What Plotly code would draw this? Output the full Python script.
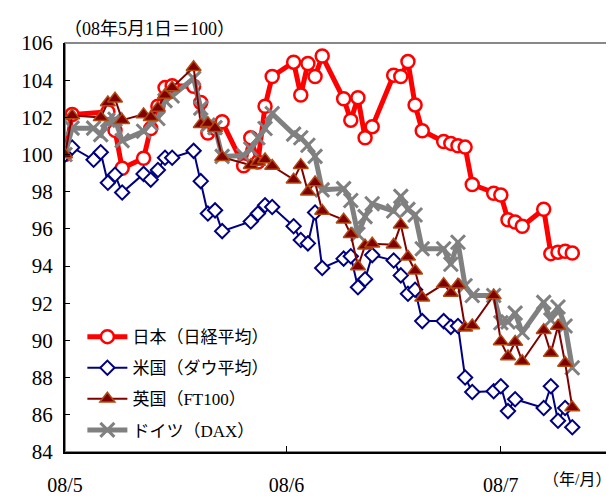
import plotly.graph_objects as go

# ---------------- data ----------------
jp_dates = ["2008-05-01","2008-05-02","2008-05-07","2008-05-08","2008-05-09","2008-05-12","2008-05-13","2008-05-14","2008-05-15","2008-05-16",
            "2008-05-19","2008-05-20","2008-05-21","2008-05-22","2008-05-23","2008-05-26","2008-05-27","2008-05-28","2008-05-29","2008-05-30",
            "2008-06-02","2008-06-03","2008-06-04","2008-06-05","2008-06-06","2008-06-09","2008-06-10","2008-06-11","2008-06-12","2008-06-13",
            "2008-06-16","2008-06-17","2008-06-18","2008-06-19","2008-06-20","2008-06-23","2008-06-24","2008-06-25","2008-06-26","2008-06-27",
            "2008-06-30","2008-07-01","2008-07-02","2008-07-03","2008-07-04","2008-07-07","2008-07-08","2008-07-09","2008-07-10","2008-07-11"]
jp_values = [100.0, 102.15, 102.3, 101.3, 99.26, 99.8, 101.4, 102.6, 103.6, 103.7,
             103.67, 102.8, 101.16, 101.4, 101.76, 99.4, 100.9, 99.6, 102.6, 104.2,
             104.97, 103.2, 104.9, 104.2, 105.3, 103.0, 101.85, 103.06, 100.9, 101.5,
             104.27, 104.2, 105.0, 102.67, 101.28, 100.7, 100.6, 100.47, 100.4, 98.39,
             97.92, 97.82, 96.49, 96.37, 96.14, 97.06, 94.67, 94.75, 94.8, 94.7]

us_dates = ["2008-05-01","2008-05-02","2008-05-05","2008-05-06","2008-05-07","2008-05-08","2008-05-09","2008-05-12","2008-05-13","2008-05-14",
            "2008-05-15","2008-05-16","2008-05-19","2008-05-20","2008-05-21","2008-05-22","2008-05-23","2008-05-27","2008-05-28","2008-05-29",
            "2008-05-30","2008-06-02","2008-06-03","2008-06-04","2008-06-05","2008-06-06","2008-06-09","2008-06-10","2008-06-11","2008-06-12",
            "2008-06-13","2008-06-16","2008-06-17","2008-06-18","2008-06-19","2008-06-20","2008-06-23","2008-06-24","2008-06-25","2008-06-26",
            "2008-06-27","2008-06-30","2008-07-01","2008-07-02","2008-07-03","2008-07-07","2008-07-08","2008-07-09","2008-07-10","2008-07-11"]
us_values = [100.0, 100.38, 99.72, 100.12, 98.48, 98.91, 97.96, 98.96, 98.65, 99.17,
             99.83, 99.83, 100.2, 98.57, 96.83, 97.0, 95.88, 96.4, 96.83, 97.27,
             97.18, 96.14, 95.4, 95.22, 96.88, 93.9, 94.4, 94.53, 92.86, 93.29,
             94.59, 94.3, 93.5, 92.51, 92.73, 91.04, 91.04, 90.73, 90.78, 88.01,
             87.23, 87.27, 87.54, 86.2, 86.84, 86.37, 87.54, 85.68, 86.37, 85.33]

uk_dates = ["2008-05-01","2008-05-02","2008-05-06","2008-05-07","2008-05-08","2008-05-09","2008-05-12","2008-05-13","2008-05-14","2008-05-15",
            "2008-05-16","2008-05-19","2008-05-20","2008-05-21","2008-05-22","2008-05-23","2008-05-27","2008-05-28","2008-05-29","2008-05-30",
            "2008-06-02","2008-06-03","2008-06-04","2008-06-05","2008-06-06","2008-06-09","2008-06-10","2008-06-11","2008-06-12","2008-06-13",
            "2008-06-16","2008-06-17","2008-06-18","2008-06-19","2008-06-20","2008-06-23","2008-06-24","2008-06-25","2008-06-26","2008-06-27",
            "2008-06-30","2008-07-01","2008-07-02","2008-07-03","2008-07-04","2008-07-07","2008-07-08","2008-07-09","2008-07-10","2008-07-11"]
uk_values = [100.0, 102.1, 102.0, 102.8, 103.0, 101.85, 102.16, 102.0, 102.5, 103.2,
             103.6, 104.7, 101.63, 101.68, 101.42, 99.86, 99.43, 99.6, 99.73, 99.38,
             98.65, 99.43, 98.0, 98.5, 96.96, 96.49, 95.71, 93.98, 95.1, 95.2,
             95.15, 96.23, 94.5, 93.75, 92.3, 93.03, 92.55, 93.0, 90.69, 90.8,
             92.42, 89.95, 89.14, 89.92, 88.88, 90.55, 89.32, 90.78, 88.79, 86.4]

de_dates = ["2008-05-01","2008-05-02","2008-05-05","2008-05-06","2008-05-07","2008-05-08","2008-05-09","2008-05-12","2008-05-13","2008-05-14",
            "2008-05-15","2008-05-16","2008-05-19","2008-05-20","2008-05-21","2008-05-22","2008-05-23","2008-05-26","2008-05-27","2008-05-28",
            "2008-05-29","2008-05-30","2008-06-02","2008-06-03","2008-06-04","2008-06-05","2008-06-06","2008-06-09","2008-06-10","2008-06-11",
            "2008-06-12","2008-06-13","2008-06-16","2008-06-17","2008-06-18","2008-06-19","2008-06-20","2008-06-23","2008-06-24","2008-06-25",
            "2008-06-26","2008-06-27","2008-06-30","2008-07-01","2008-07-02","2008-07-03","2008-07-04","2008-07-07","2008-07-08","2008-07-09",
            "2008-07-10","2008-07-11"]
de_values = [100.0, 101.42, 101.42, 101.07, 101.85, 101.9, 100.75, 101.25, 101.68, 101.94,
             102.9, 103.15, 104.1, 102.5, 101.59, 101.45, 99.9, 99.95, 100.3, 100.9,
             101.4, 102.2, 101.1, 100.9, 100.5, 99.9, 98.1, 98.17, 97.53, 95.71,
             96.66, 97.35, 96.96, 97.75, 97.05, 96.75, 94.93, 94.93, 94.1, 95.28,
             92.94, 92.42, 92.42, 90.95, 91.0, 91.47, 90.43, 92.05, 91.1, 91.8,
             90.78, 88.53]

series_names = ["日本（日経平均）", "米国（ダウ平均）", "英国（FT100）", "ドイツ（DAX）"]
tick_dates = ["2008-05-01", "2008-06-01", "2008-07-01"]
tick_labels = ["08/5", "08/6", "08/7"]
y_ticks = [84, 86, 88, 90, 92, 94, 96, 98, 100, 102, 104, 106]
unit_note = "（08年5月1日＝100）"
x_unit = "（年/月）"

FONT = "'Liberation Serif', 'Noto Sans CJK JP', serif"

fig = go.Figure()

fig.add_trace(go.Scatter(
    x=jp_dates, y=jp_values, name=series_names[0], mode="lines+markers",
    line=dict(color="#FF0000", width=5),
    marker=dict(symbol="circle", size=13, color="white", line=dict(color="#FF0000", width=2.5)),
    legendgroup="a", legendrank=1))
fig.add_trace(go.Scatter(
    x=us_dates, y=us_values, name=series_names[1], mode="lines+markers",
    line=dict(color="#000080", width=2),
    marker=dict(symbol="diamond", size=11, color="white", line=dict(color="#000080", width=2)),
    legendgroup="b", legendrank=2))
fig.add_trace(go.Scatter(
    x=de_dates, y=de_values, name=series_names[3], mode="lines+markers",
    line=dict(color="#808080", width=5),
    marker=dict(symbol="x-thin", size=14, color="#808080", line=dict(color="#808080", width=3)),
    legendgroup="d", legendrank=4))
fig.add_trace(go.Scatter(
    x=uk_dates, y=uk_values, name=series_names[2], mode="lines+markers",
    line=dict(color="#800000", width=2),
    marker=dict(symbol="triangle-up", size=13, color="#800000", line=dict(color="#B04A10", width=1.5)),
    legendgroup="c", legendrank=3))

fig.update_layout(
    width=614, height=500,
    margin=dict(l=57, r=14, t=35, b=41),
    paper_bgcolor="white", plot_bgcolor="white",
    font=dict(family=FONT, size=18, color="black"),
    showlegend=True,
    legend=dict(x=0.032, y=0.325, xanchor="left", yanchor="top",
                bgcolor="rgba(0,0,0,0)", font=dict(size=17, family=FONT),
                tracegroupgap=6, itemwidth=40),
    xaxis=dict(type="date", range=["2008-05-01", "2008-07-16"],
               tickvals=tick_dates, ticktext=tick_labels,
               ticks="inside", ticklen=6, tickcolor="black",
               showline=True, linecolor="black", linewidth=2,
               showgrid=False, zeroline=False, ticklabelstandoff=14,
               tickfont=dict(size=20)),
    yaxis=dict(range=[84, 106], tickvals=y_ticks,
               ticks="inside", ticklen=5, tickcolor="black",
               showline=True, linecolor="black", linewidth=2,
               showgrid=False, zeroline=False, ticklabelstandoff=6,
               tickfont=dict(size=21)),
    shapes=[dict(type="rect", xref="paper", yref="paper", x0=0, y0=0, x1=1, y1=1,
                 line=dict(color="#888888", width=2), layer="below")],
    annotations=[
        dict(text=unit_note, xref="paper", yref="paper", x=-0.005, y=1.035,
             xanchor="left", yanchor="middle", showarrow=False, font=dict(size=18)),
        dict(text=x_unit, xref="paper", yref="paper", x=1.01, y=-0.068,
             xanchor="right", yanchor="middle", showarrow=False, font=dict(size=16)),
    ],
)

fig.write_html("out.html")
